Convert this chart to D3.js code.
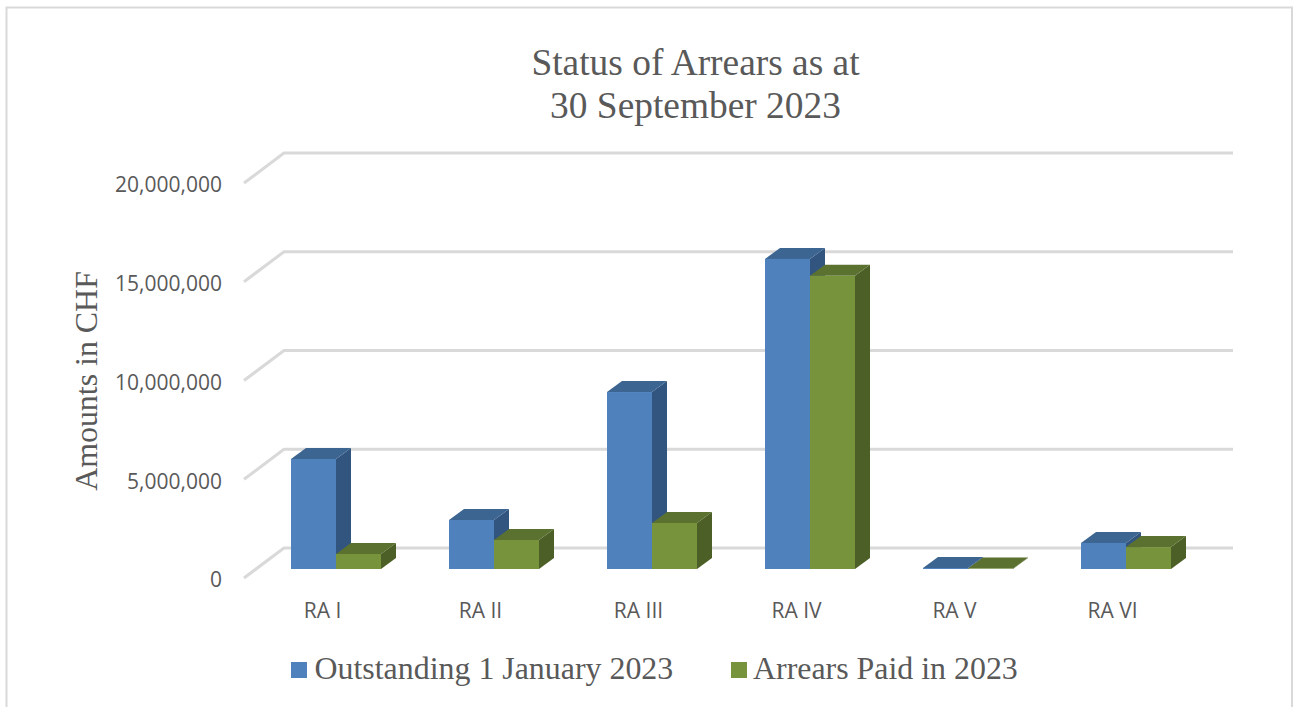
<!DOCTYPE html>
<html><head><meta charset="utf-8">
<style>html,body{margin:0;padding:0;background:#fff}svg{display:block}</style>
<script src="https://cdn.jsdelivr.net/npm/d3@7"></script></head>
<body><svg id="c" width="1293" height="707"></svg>
<script>
const categories = ["RA I","RA II","RA III","RA IV","RA V","RA VI"];
const seriesNames = ["Outstanding 1 January 2023","Arrears Paid in 2023"];
const outstanding = [5570000,2480000,8960000,15700000,50000,1320000];
const paid = [760000,1470000,2330000,14850000,20000,1110000];
const yTicks = [0,5000000,10000000,15000000,20000000];
const titleLines = ["Status of Arrears as at","30 September 2023"];
const yTitle = "Amounts in CHF";
const faces = [
  {front:"#4f81bd",top:"#3d6592",side:"#325580"},
  {front:"#77933c",top:"#5b7130",side:"#4c5f27"}
];
const svg = d3.select("#c");
const serif = "'Liberation Serif','Times New Roman',serif";
const sans = "'Open Sans',sans-serif";
const grey = "#595959";

// chart frame
svg.append("path").attr("d","M6.5,707V7.5H1292V707").attr("fill","none").attr("stroke","#d9d9d9").attr("stroke-width",2);

const y = d3.scaleLinear().domain([0,20000000]).range([569,174]);
const x = d3.scaleBand().domain(categories).range([257,1205]).paddingInner(68/158).paddingOuter(34/158);
const xs = d3.scaleBand().domain([0,1]).range([0,x.bandwidth()]);
const floor = {dx:40, dy:-30, backY:-21, frontY:9};
const depth = {dx:15, dy:-11};

// gridlines: side wall + back wall
const grid = svg.append("g").attr("fill","none").attr("stroke","#d9d9d9").attr("stroke-width",3).attr("stroke-linejoin","round");
grid.selectAll("path").data(yTicks).join("path")
  .attr("d",d=>`M244,${y(d)+floor.frontY}L284,${y(d)+floor.backY}H1233`);

// y axis labels
const fmt = d3.format(",");
svg.append("g").selectAll("text").data(yTicks).join("text")
  .attr("x",222).attr("y",d=>y(d)+floor.frontY+2).attr("dy","0.35em")
  .attr("text-anchor","end").attr("font-family",sans).attr("font-size",21).attr("fill",grey)
  .text(fmt);

// bars
const g = svg.append("g");
[outstanding,paid].forEach((vals,s)=>{
  const f = faces[s];
  const bars = g.selectAll(".b"+s).data(vals).join("g").attr("class","b"+s);
  const X0 = (d,i)=>x(categories[i])+xs(s), W = xs.bandwidth();
  bars.append("path").attr("fill",f.side).attr("d",(d,i)=>{
    const a=X0(d,i)+W,t=y(d),b=y(0);
    return `M${a},${t}l${depth.dx},${depth.dy}V${b+depth.dy}L${a},${b}Z`;});
  bars.append("path").attr("fill",f.top).attr("d",(d,i)=>{
    const a=X0(d,i),t=y(d);
    return `M${a},${t}l${depth.dx},${depth.dy}h${W}l${-depth.dx},${-depth.dy}Z`;});
  bars.append("rect").attr("fill",f.front).attr("x",X0).attr("width",W)
    .attr("y",d=>y(d)).attr("height",d=>y(0)-y(d));
});

// category labels
svg.append("g").selectAll("text").data(categories).join("text")
  .attr("x",d=>x(d)+x.bandwidth()/2-13.5).attr("y",618)
  .attr("text-anchor","middle").attr("font-family",sans).attr("font-size",21).attr("fill",grey)
  .text(d=>d);

// title
svg.append("g").selectAll("text").data(titleLines).join("text")
  .attr("x",695.5).attr("y",(d,i)=>75+i*43)
  .attr("text-anchor","middle").attr("font-family",serif).attr("font-size",37.4).attr("fill",grey)
  .text(d=>d);

// y title
svg.append("text").attr("transform","translate(97,381) rotate(-90)")
  .attr("text-anchor","middle").attr("font-family",serif).attr("font-size",31.9).attr("fill",grey).text(yTitle);

// legend
const legendX = [291,731];
const lg = svg.append("g").selectAll("g").data(seriesNames).join("g");
lg.append("rect").attr("x",(d,i)=>legendX[i]).attr("y",662).attr("width",16).attr("height",16).attr("fill",(d,i)=>faces[i].front);
lg.append("text").attr("x",(d,i)=>legendX[i]+(i?22:23.5)).attr("y",679).attr("font-family",serif).attr("font-size",31.9).attr("fill",grey).text(d=>d);
</script></body></html>
